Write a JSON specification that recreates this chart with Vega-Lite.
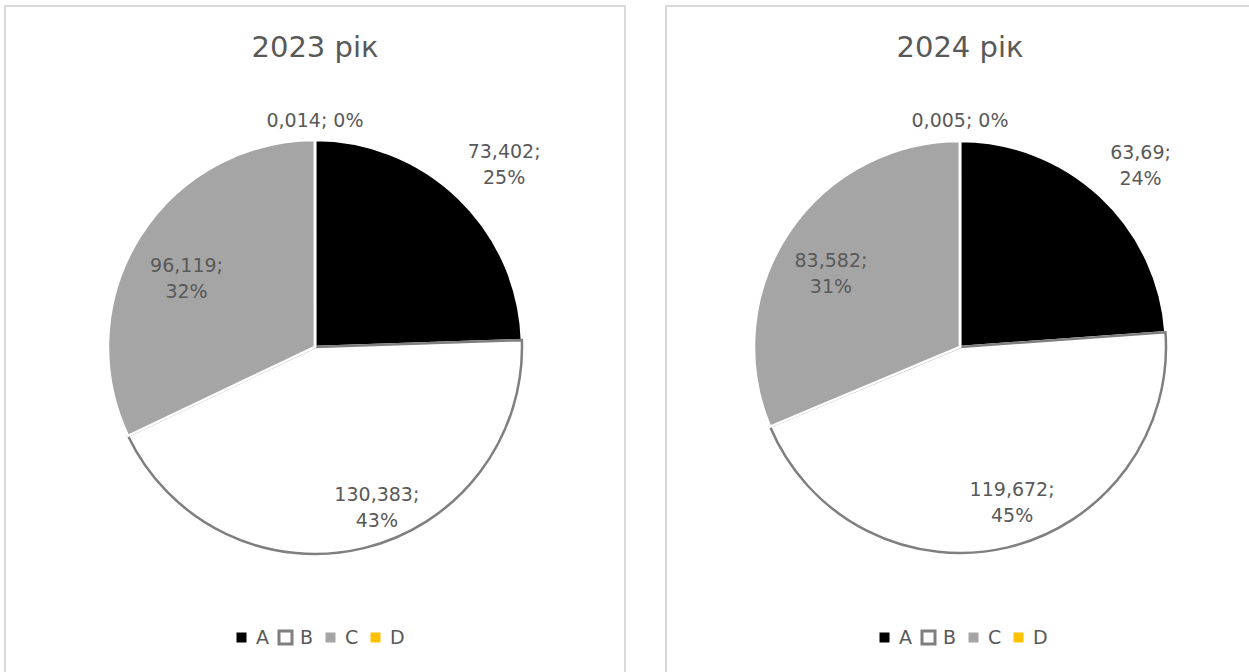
{
  "$schema": "https://vega.github.io/schema/vega-lite/v6.json",
  "background": "white",
  "padding": {"left": 4, "top": 5, "right": 0, "bottom": 0},
  "spacing": 39,
  "datasets": {
    "y2023": [
      {"cat": "A", "val": 73.402, "lbl": "73,402;\n25%"},
      {"cat": "B", "val": 130.383, "lbl": "130,383;\n43%"},
      {"cat": "C", "val": 96.119, "lbl": "96,119;\n32%"},
      {"cat": "D", "val": 0.014, "lbl": "0,014; 0%"}
    ],
    "y2024": [
      {"cat": "A", "val": 63.69, "lbl": "63,69;\n24%"},
      {"cat": "B", "val": 119.672, "lbl": "119,672;\n45%"},
      {"cat": "C", "val": 83.582, "lbl": "83,582;\n31%"},
      {"cat": "D", "val": 0.005, "lbl": "0,005; 0%"}
    ]
  },
  "hconcat": [
    {
      "width": 620,
      "height": 682,
      "view": {"stroke": "#d9d9d9", "strokeWidth": 2},
      "title": {"text": "2023 рік"},
      "data": {"name": "y2023"},
      "encoding": {
        "theta": {"field": "val", "type": "quantitative", "stack": true},
        "order": {"field": "cat", "type": "ordinal"}
      },
      "layer": [
        {
          "mark": {"type": "arc", "outerRadius": 207, "strokeWidth": 2.5},
          "encoding": {
            "color": {"field": "cat", "type": "nominal", "scale": {"domain": ["A", "B", "C", "D"], "range": ["#000000", "#ffffff", "#a5a5a5", "#ffc000"]}, "legend": {"title": null, "legendX": 227, "legendY": 622}},
            "stroke": {"field": "cat", "type": "nominal", "scale": {"domain": ["A", "B", "C", "D"], "range": ["#ffffff", "#7f7f7f", "#ffffff", "#ffffff"]}, "legend": {"title": null, "legendX": 227, "legendY": 622}}
          }
        },
        {
          "mark": {"type": "text", "radius": 272},
          "encoding": {"detail": {"field": "cat", "type": "nominal"}, "text": {"condition": {"test": "datum.cat === 'A'", "field": "lbl", "type": "nominal"}, "value": ""}}
        },
        {
          "mark": {"type": "text", "radius": 152, "dx": 26},
          "encoding": {"detail": {"field": "cat", "type": "nominal"}, "text": {"condition": {"test": "datum.cat === 'B'", "field": "lbl", "type": "nominal"}, "value": ""}}
        },
        {
          "mark": {"type": "text", "radius": 152},
          "encoding": {"detail": {"field": "cat", "type": "nominal"}, "text": {"condition": {"test": "datum.cat === 'C'", "field": "lbl", "type": "nominal"}, "value": ""}}
        },
        {
          "mark": {"type": "text", "radius": 226},
          "encoding": {"detail": {"field": "cat", "type": "nominal"}, "text": {"condition": {"test": "datum.cat === 'D'", "field": "lbl", "type": "nominal"}, "value": ""}}
        }
      ]
    },
    {
      "width": 588,
      "height": 682,
      "view": {"stroke": "#d9d9d9", "strokeWidth": 2},
      "title": {"text": "2024 рік"},
      "data": {"name": "y2024"},
      "encoding": {
        "theta": {"field": "val", "type": "quantitative", "stack": true},
        "order": {"field": "cat", "type": "ordinal"}
      },
      "layer": [
        {
          "mark": {"type": "arc", "outerRadius": 206, "strokeWidth": 2.5},
          "encoding": {
            "color": {"field": "cat", "type": "nominal", "scale": {"domain": ["A", "B", "C", "D"], "range": ["#000000", "#ffffff", "#a5a5a5", "#ffc000"]}, "legend": {"title": null, "legendX": 209, "legendY": 622}},
            "stroke": {"field": "cat", "type": "nominal", "scale": {"domain": ["A", "B", "C", "D"], "range": ["#ffffff", "#7f7f7f", "#ffffff", "#ffffff"]}, "legend": {"title": null, "legendX": 209, "legendY": 622}}
          }
        },
        {
          "mark": {"type": "text", "radius": 265},
          "encoding": {"detail": {"field": "cat", "type": "nominal"}, "text": {"condition": {"test": "datum.cat === 'A'", "field": "lbl", "type": "nominal"}, "value": ""}}
        },
        {
          "mark": {"type": "text", "radius": 147, "dx": 18},
          "encoding": {"detail": {"field": "cat", "type": "nominal"}, "text": {"condition": {"test": "datum.cat === 'B'", "field": "lbl", "type": "nominal"}, "value": ""}}
        },
        {
          "mark": {"type": "text", "radius": 155},
          "encoding": {"detail": {"field": "cat", "type": "nominal"}, "text": {"condition": {"test": "datum.cat === 'C'", "field": "lbl", "type": "nominal"}, "value": ""}}
        },
        {
          "mark": {"type": "text", "radius": 226},
          "encoding": {"detail": {"field": "cat", "type": "nominal"}, "text": {"condition": {"test": "datum.cat === 'D'", "field": "lbl", "type": "nominal"}, "value": ""}}
        }
      ]
    }
  ],
  "resolve": {
    "scale": {"theta": "independent", "color": "independent", "stroke": "independent"},
    "legend": {"color": "independent", "stroke": "independent"}
  },
  "config": {
    "view": {"stroke": "#d9d9d9", "strokeWidth": 2},
    "title": {"font": "DejaVu Sans", "fontSize": 29, "fontWeight": "normal", "color": "#595959", "anchor": "middle", "offset": -57, "baseline": "alphabetic"},
    "text": {"font": "DejaVu Sans", "fontSize": 19, "fill": "#595959", "lineHeight": 26, "lineBreak": "\n"},
    "legend": {"orient": "none", "direction": "horizontal", "symbolType": "square", "symbolSize": 169, "symbolStrokeWidth": 3, "labelFont": "DejaVu Sans", "labelFontSize": 19, "labelColor": "#595959", "labelOffset": 5, "columnPadding": 4, "padding": 0}
  }
}
